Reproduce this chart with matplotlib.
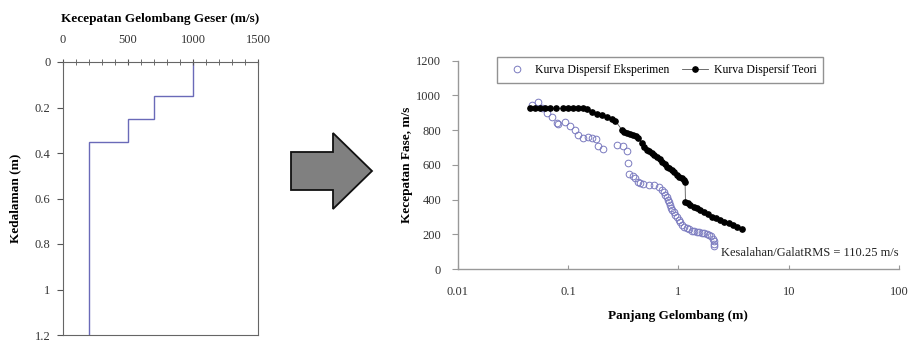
import matplotlib
matplotlib.use("Agg")
import matplotlib.pyplot as plt
from matplotlib.patches import Polygon
from matplotlib.ticker import FixedLocator, FuncFormatter, MultipleLocator

plt.rcParams["font.family"] = ["Liberation Serif", "DejaVu Serif"]
plt.rcParams["font.size"] = 9

# ─── Data ─────────────────────────────────────────────────────────
# shear-wave velocity profile (layer edges in m, velocity in m/s)
depth_edges = [0.0, 0.15, 0.25, 0.35, 1.2]
vs_layers = [1000, 700, 500, 200]

# experimental dispersion curve
exp_lambda = [0.0469, 0.0538, 0.0578, 0.0642, 0.0713, 0.0791, 0.0818, 0.0941,
              0.1045, 0.1159, 0.1242, 0.1380, 0.1531, 0.1644, 0.1780, 0.1870,
              0.2070, 0.2807, 0.3180, 0.3417, 0.3532, 0.3607, 0.3921, 0.4050,
              0.4353, 0.4490, 0.4831, 0.5370, 0.5957, 0.6610, 0.7096, 0.7340,
              0.7603, 0.7890, 0.7980, 0.8150, 0.8318, 0.8520, 0.8750, 0.9050,
              0.9376, 0.9700, 1.005, 1.040, 1.079, 1.130, 1.197, 1.260, 1.328,
              1.400, 1.475, 1.550, 1.637, 1.720, 1.820, 1.900, 1.977, 2.050,
              2.100, 2.120, 2.100]
exp_speed = [946, 960, 927, 898, 875, 841, 835, 844,
             825, 798, 773, 754, 763, 754, 748, 706,
             690, 715, 706, 677, 613, 548, 533, 523,
             504, 494, 490, 485, 485, 475, 456, 446,
             427, 412, 398, 384, 369, 354, 340, 326,
             312, 297, 283, 268, 254, 244, 235, 228, 221,
             218, 215, 212, 210, 206, 202, 197, 190, 175,
             160, 145, 132]

# theoretical dispersion curve
theo_lambda = [0.0453, 0.0502, 0.0558, 0.0620, 0.0688, 0.0780, 0.0902, 0.1002,
               0.1112, 0.1236, 0.1371, 0.1489, 0.1644, 0.1824, 0.2027, 0.2250,
               0.2496, 0.2675, 0.3078, 0.3250, 0.3417, 0.3650, 0.3921, 0.4150,
               0.4353, 0.4674, 0.4900, 0.5188, 0.5450, 0.5754, 0.6050, 0.6397,
               0.6750, 0.7096, 0.7500, 0.7889, 0.8300, 0.8750, 0.9200, 0.9705,
               1.020, 1.079, 1.120, 1.150, 1.160, 1.220, 1.282, 1.380, 1.475,
               1.580, 1.694, 1.850, 2.018, 2.200, 2.399, 2.620, 2.856, 3.100,
               3.404, 3.776]
theo_speed = [925, 927, 925, 926, 925, 926, 925, 927,
              925, 926, 928, 922, 907, 894, 885, 873,
              864, 855, 802, 790, 783, 778, 773, 765,
              754, 725, 705, 687, 677, 667, 657, 648,
              633, 619, 605, 590, 580, 571, 556, 542,
              532, 523, 510, 504, 388, 378, 369, 360, 350,
              340, 331, 317, 302, 292, 283, 273, 264, 254,
              244, 229]

ticks_depth = [0, 0.2, 0.4, 0.6, 0.8, 1.0, 1.2]
ticks_vs = [0, 500, 1000, 1500]
ticks_lambda = [0.01, 0.1, 1, 10, 100]
ticks_speed = [0, 200, 400, 600, 800, 1000, 1200]

W, H = 909, 343
fig = plt.figure(figsize=(W / 100, H / 100), dpi=100)


def _box(x0, y0, x1, y1):
    # pixel box (top-left origin) -> figure fraction rect
    return [x0 / W, 1 - y1 / H, (x1 - x0) / W, (y1 - y0) / H]


# ─── Left: velocity profile ───────────────────────────────────────
axl = fig.add_axes(_box(63, 62, 258, 335))
axl.stairs(vs_layers, depth_edges, orientation="horizontal", baseline=None,
           color="#6a6ab8", linewidth=1.0)
axl.set_xlim(0, 1500)
axl.set_ylim(1.2, 0)
axl.xaxis.tick_top()
axl.xaxis.set_label_position("top")
axl.xaxis.set_major_locator(FixedLocator(ticks_vs))
axl.xaxis.set_minor_locator(MultipleLocator(100))
axl.yaxis.set_major_locator(FixedLocator(ticks_depth))
axl.yaxis.set_major_formatter(FuncFormatter(lambda v, _p: f"{v:g}"))
axl.tick_params(axis="x", which="both", direction="inout", length=5,
                color="#555555", labelsize=9, labelcolor="#333333", pad=9)
axl.tick_params(axis="x", which="minor", length=4)
axl.tick_params(axis="y", direction="out", length=4, color="#555555",
                labelsize=9, labelcolor="#333333", pad=5)
for sp in axl.spines.values():
    sp.set_color("#666666")
    sp.set_linewidth(0.8)
axl.set_xlabel("Kecepatan Gelombang Geser (m/s)", fontweight="bold",
               fontsize=9.5, labelpad=9)
axl.set_ylabel("Kedalaman (m)", fontweight="bold", fontsize=9.5, labelpad=10)

# ─── Arrow ────────────────────────────────────────────────────────
arrow_px = [(291, 152), (333, 152), (333, 133), (372, 171),
            (333, 209), (333, 190), (291, 190)]
arrow = Polygon([(x / W, 1 - y / H) for x, y in arrow_px], closed=True,
                transform=fig.transFigure, facecolor="#808080",
                edgecolor="#111111", linewidth=1.3)
fig.patches.append(arrow)

# ─── Right: dispersion curves ─────────────────────────────────────
axr = fig.add_axes(_box(457.7, 60.7, 899, 269))
axr.plot(exp_lambda, exp_speed, linestyle="none", marker="o", markersize=4.8,
         markerfacecolor="none", markeredgecolor="#7a7abf", markeredgewidth=0.7,
         label="Kurva Dispersif Eksperimen")
axr.plot(theo_lambda, theo_speed, color="#555555", linewidth=0.6, marker="o",
         markersize=3.8, markerfacecolor="black", markeredgecolor="black",
         label="Kurva Dispersif Teori")
axr.set_xscale("log")
axr.set_xlim(0.01, 100)
axr.set_ylim(0, 1200)
axr.xaxis.set_major_locator(FixedLocator(ticks_lambda))
axr.xaxis.set_minor_locator(FixedLocator([]))
axr.xaxis.set_major_formatter(FuncFormatter(lambda v, _p: f"{v:g}"))
axr.yaxis.set_major_locator(FixedLocator(ticks_speed))
axr.tick_params(axis="x", direction="in", length=3, color="#999999",
                labelsize=9, labelcolor="#333333", pad=12)
axr.tick_params(axis="y", direction="out", length=4, color="#999999",
                labelsize=9, labelcolor="#333333", pad=8)
axr.spines["top"].set_visible(False)
axr.spines["right"].set_visible(False)
for side in ("left", "bottom"):
    axr.spines[side].set_color("#999999")
    axr.spines[side].set_linewidth(1.0)
axr.set_xlabel("Panjang Gelombang (m)", fontweight="bold", fontsize=9.5,
               labelpad=9)
axr.set_ylabel("Kecepatan Fase, m/s", fontweight="bold", fontsize=9.5,
               labelpad=2)

leg = axr.legend(loc="upper left", bbox_to_anchor=(0.088, 1.019), ncol=2,
                 frameon=True, fancybox=False, fontsize=8.5, handlelength=2.2,
                 handletextpad=0.5, columnspacing=1.0, borderpad=0.6,
                 borderaxespad=0, edgecolor="#777777")
leg.get_frame().set_linewidth(1.0)

axr.text(1.0, 0.077, "Kesalahan/GalatRMS = 110.25 m/s", transform=axr.transAxes,
         ha="right", va="center", fontsize=9, color="#222222")

fig.savefig("out.png", dpi=100)
plt.close(fig)
